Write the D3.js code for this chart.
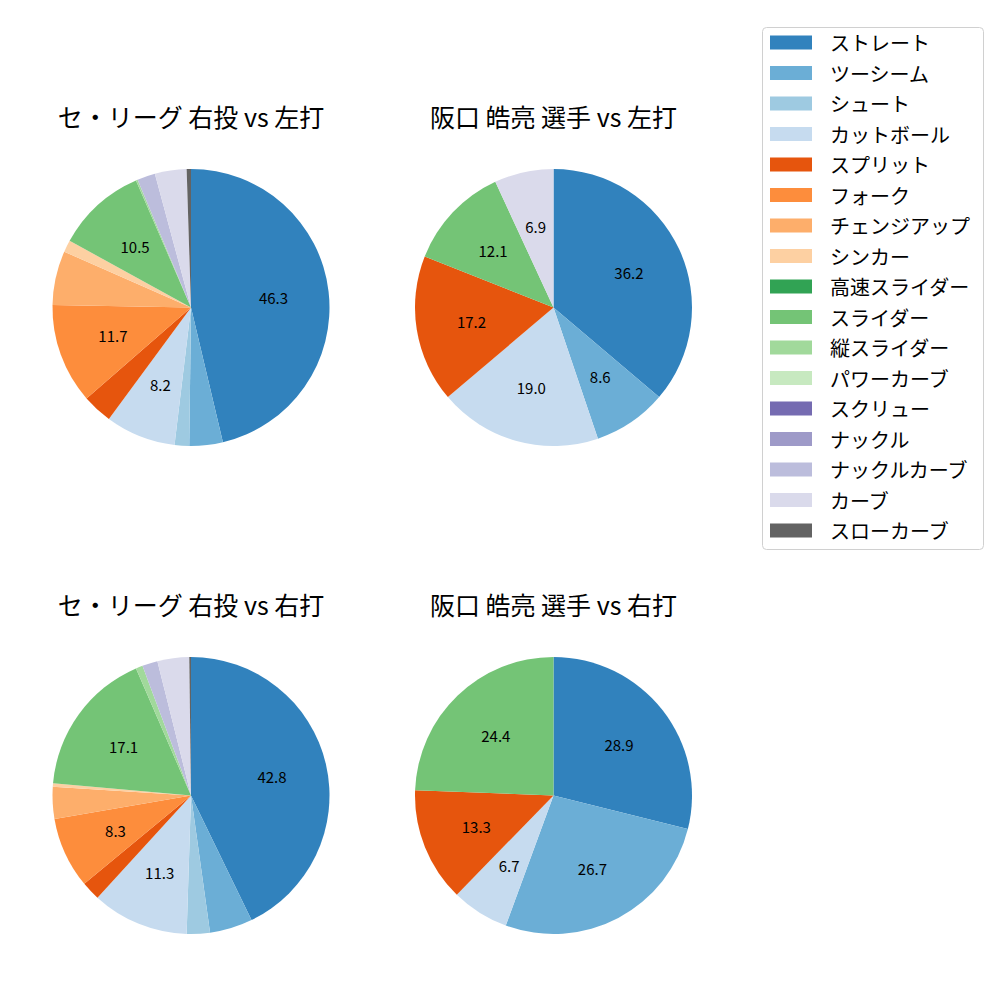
<!DOCTYPE html>
<html>
<head>
<meta charset="utf-8">
<script src="https://cdn.jsdelivr.net/npm/d3@7"></script>
<style>
  body { margin: 0; background: #fff; }
  svg { display: block; font-family: "Noto Sans CJK JP", "Noto Sans", sans-serif; }
</style>
</head>
<body>
<svg id="chart" width="1000" height="1000"></svg>
<script>
const pitchTypes = ["ストレート","ツーシーム","シュート","カットボール","スプリット","フォーク","チェンジアップ","シンカー","高速スライダー","スライダー","縦スライダー","パワーカーブ","スクリュー","ナックル","ナックルカーブ","カーブ","スローカーブ"];
const pitchColors = ["#3182bd","#6baed6","#9ecae1","#c6dbef","#e6550d","#fd8d3c","#fdae6b","#fdd0a2","#31a354","#74c476","#a1d99b","#c7e9c0","#756bb1","#9e9ac8","#bcbddc","#dadaeb","#636363"];

const titles = ["セ・リーグ 右投 vs 左打","阪口 皓亮 選手 vs 左打","セ・リーグ 右投 vs 右打","阪口 皓亮 選手 vs 右打"];

// values per pitch type (same order as pitchTypes), percent
const leagueVsLeft  = [46.3,3.9,1.7,8.2,3.5,11.7,6.3,1.4,0,10.5,0.2,0,0,0,2.1,3.7,0.5];
const playerVsLeft  = [36.2,8.6,0,19.0,17.2,0,0,0,0,12.1,0,0,0,0,0,6.9,0];
const leagueVsRight = [42.8,5.0,2.7,11.3,2.2,8.3,3.7,0.4,0,17.1,0.8,0,0,0,1.8,3.7,0.2];
const playerVsRight = [28.9,26.7,0,6.7,13.3,0,0,0,0,24.4,0,0,0,0,0,0,0];

const labelThreshold = 6.5;

const svg = d3.select("#chart");
const color = d3.scaleOrdinal().domain(pitchTypes).range(pitchColors);

const panels = [
  {title: titles[0], values: leagueVsLeft,  cx: 191, cy: 307.5},
  {title: titles[1], values: playerVsLeft,  cx: 553.5, cy: 307.5},
  {title: titles[2], values: leagueVsRight, cx: 191, cy: 795.5},
  {title: titles[3], values: playerVsRight, cx: 553.5, cy: 795.5}
];
const R = 138.5;

const pie = d3.pie().sort(null).value(d => d.v).startAngle(0).endAngle(2 * Math.PI);
const arc = d3.arc().innerRadius(0).outerRadius(R);
const labelArc = d3.arc().innerRadius(R * 0.6).outerRadius(R * 0.6);

panels.forEach(p => {
  const data = pitchTypes.map((name, i) => ({name, v: p.values[i]})).filter(d => d.v > 0);
  const g = svg.append("g").attr("transform", `translate(${p.cx},${p.cy})`);
  const arcs = pie(data);
  g.selectAll("path").data(arcs).enter().append("path")
    .attr("d", arc)
    .attr("fill", d => color(d.data.name));
  g.selectAll("text").data(arcs.filter(d => d.data.v >= labelThreshold)).enter().append("text")
    .attr("transform", d => `translate(${labelArc.centroid(d)})`)
    .attr("text-anchor", "middle")
    .attr("dominant-baseline", "central")
    .attr("font-size", 15)
    .attr("fill", "#000")
    .text(d => d.data.v.toFixed(1));
  svg.append("text")
    .attr("x", p.cx)
    .attr("y", p.cy - 181)
    .attr("text-anchor", "middle")
    .attr("font-size", 25)
    .attr("fill", "#000")
    .text(p.title);
});

// legend
const lg = svg.append("g");
lg.append("rect")
  .attr("x", 762.5).attr("y", 27.5).attr("width", 221).attr("height", 522)
  .attr("rx", 4).attr("fill", "#fff").attr("stroke", "#d0d0d0").attr("stroke-width", 1);
const rowY = d3.scaleLinear().domain([0, pitchTypes.length - 1]).range([42.5, 530.5]);
pitchTypes.forEach((name, i) => {
  lg.append("rect")
    .attr("x", 770).attr("y", rowY(i) - 7).attr("width", 42).attr("height", 14)
    .attr("fill", color(name));
  lg.append("text")
    .attr("x", 830).attr("y", rowY(i))
    .attr("dominant-baseline", "central")
    .attr("font-size", 20)
    .attr("fill", "#000")
    .text(name);
});
</script>
</body>
</html>
